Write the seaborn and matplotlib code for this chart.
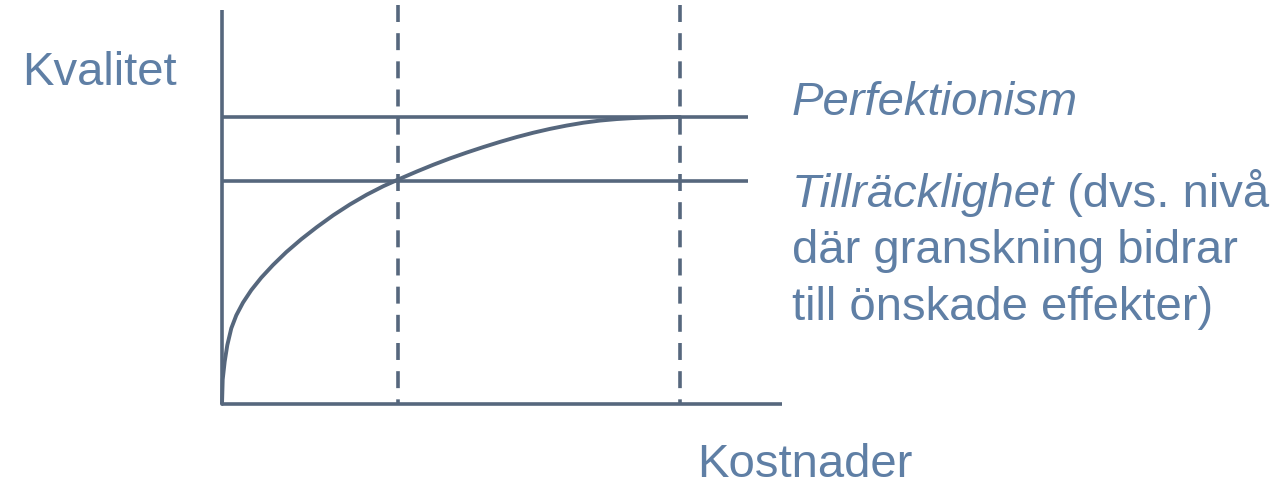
import matplotlib
matplotlib.use("Agg")
import matplotlib.pyplot as plt
import seaborn as sns
import pandas as pd

# ---- data (conceptual units) ----
cost = [0.0, 0.0153, 0.0590, 0.1157, 0.2031, 0.3122, 0.4585, 0.6397, 0.8581,
        1.1135, 1.4039, 1.7314, 2.0677, 2.4301, 2.7948, 3.1594, 3.5218,
        3.8428, 4.2511, 4.6135, 4.9782, 5.3428, 5.7052, 6.0699, 6.4345,
        6.7969, 7.1616, 7.5262, 7.8886, 8.2533, 8.6179, 8.9803, 9.3450,
        9.7096, 10.0]
quality = [0.0, 0.854, 1.481, 2.052, 2.638, 3.091, 3.533, 3.969, 4.404,
           4.843, 5.293, 5.742, 6.160, 6.578, 6.955, 7.293, 7.589,
           7.819, 8.099, 8.336, 8.557, 8.761, 8.952, 9.133, 9.301,
           9.452, 9.586, 9.702, 9.800, 9.876, 9.928, 9.963, 9.983,
           9.992, 10.0]
levels = [10.0, 7.77]          # Perfektionism, Tillräcklighet
thresholds = [3.843, 10.0]     # cost at each level
y_label = "Kvalitet"
x_label = "Kostnader"
level_names = ["Perfektionism", "Tillräcklighet"]
level_note = [" (dvs. nivå", "där granskning bidrar", "till önskade effekter)"]

LINE = "#56677d"
TEXT = "#5f7fa5"

sns.set_theme(style="white")
plt.rcParams["font.family"] = ["Liberation Sans", "DejaVu Sans"]

W, H = 1284, 485
fig = plt.figure(figsize=(W / 100, H / 100), dpi=100)
ax = fig.add_axes([0, 0, 1, 1])
ax.set_axis_off()
# map data so (0,0) -> px (222,405) and (10,10) -> px (680,118)
sx, sy = 45.8, 28.7
ax.set_xlim(-222 / sx, (W - 222) / sx)
ax.set_ylim((405 - H) / sy, 405 / sy)

lw = 2.6
df = pd.DataFrame({"cost": cost, "quality": quality})
sns.lineplot(data=df, x="cost", y="quality", ax=ax, color=LINE, lw=2.8,
             sort=False, legend=False)
ax.lines[-1].set_solid_joinstyle("round")

# axes
ax.vlines(0, 0, 13.73, color=LINE, lw=lw)
ax.hlines(0, 0, 12.23, color=LINE, lw=lw)
# level lines
ax.hlines(levels, 0, 11.48, color=LINE, lw=lw)
# dashed thresholds (drawn top-down)
ax.vlines(thresholds, 13.90, 0, color=LINE, lw=lw, linestyles=[(0, (4.7, 3.1))])

fs = 34
def ftext(px, py, s, **kw):
    return fig.text(px / W, 1 - py / H, s, color=TEXT, fontsize=fs,
                    va="baseline", ha="left", **kw)

ftext(22, 85, y_label)
ftext(697, 477, x_label)
ftext(792, 115, level_names[0], style="italic")
t1 = ftext(792, 207, level_names[1], style="italic")
fig.canvas.draw()
bb = t1.get_window_extent()
ftext(bb.x1, 207, level_note[0])
ftext(792, 263, level_note[1])
ftext(792, 320, level_note[2])

fig.savefig("out.png", dpi=100)
